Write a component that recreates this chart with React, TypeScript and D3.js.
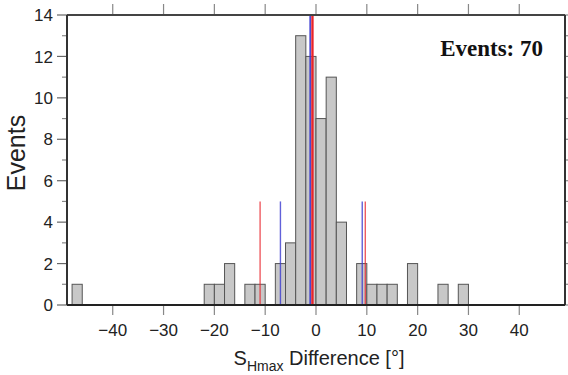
import { useMemo } from 'react';
import * as d3 from 'd3';

// histogram bins (2 degree wide), left edge and count
const binStarts = [-48, -22, -20, -18, -14, -12, -8, -6, -4, -2, 0, 2, 4, 8, 10, 12, 14, 18, 24, 28];
const binCounts = [1, 1, 1, 2, 1, 1, 2, 3, 13, 12, 9, 11, 4, 2, 1, 1, 1, 2, 1, 1];
const binWidth = 2;

// marker lines
const redLines = [-11, -0.7, 9.7];
const redHeights = [5, 14, 5];
const blueLines = [-7, -1.15, 9.1];
const blueHeights = [5, 14, 5];

const xTicks = [-40, -30, -20, -10, 0, 10, 20, 30, 40];
const yTicks = [0, 2, 4, 6, 8, 10, 12, 14];
const yMinor = [1, 3, 5, 7, 9, 11, 13];
const yAll = d3.range(0, 15);
const eventsLabel = 'Events: 70';

const width = 568;
const height = 375;
const margin = { top: 15, right: 3, bottom: 70, left: 67 };

const sans = 'Liberation Sans, Arial, Helvetica, sans-serif';

export default function App() {
  const innerWidth = width - margin.left - margin.right;
  const innerHeight = height - margin.top - margin.bottom;

  const x = useMemo(() => d3.scaleLinear().domain([-49, 49]).range([0, innerWidth]), [innerWidth]);
  const y = useMemo(() => d3.scaleLinear().domain([0, 14]).range([innerHeight, 0]), [innerHeight]);

  return (
    <svg width={width} height={height} style={{ position: 'absolute', left: 0, top: 0 }}>
      <g transform={`translate(${margin.left},${margin.top})`}>
        {binStarts.map((s, i) => (
          <rect
            key={i}
            x={x(s)}
            y={y(binCounts[i])}
            width={x(s + binWidth) - x(s)}
            height={y(0) - y(binCounts[i])}
            fill="#c8c8c8"
            stroke="#555"
            strokeWidth={1}
          />
        ))}

        {blueLines.map((v, i) => (
          <line
            key={'b' + i}
            x1={x(v)}
            x2={x(v)}
            y1={y(0)}
            y2={y(blueHeights[i])}
            stroke="#3a3ad0"
            strokeOpacity={i === 1 ? 1 : 0.8}
            strokeWidth={i === 1 ? 1.5 : 1.4}
          />
        ))}
        {redLines.map((v, i) => (
          <line
            key={'r' + i}
            x1={x(v)}
            x2={x(v)}
            y1={y(0)}
            y2={y(redHeights[i])}
            stroke="#e8242c"
            strokeOpacity={i === 1 ? 1 : 0.75}
            strokeWidth={i === 1 ? 2.4 : 1.4}
          />
        ))}

        {/* top ticks */}
        {xTicks.map((t) => (
          <line key={'tt' + t} x1={x(t)} x2={x(t)} y1={0} y2={-11} stroke="#888" strokeWidth={1.2} />
        ))}
        {/* bottom ticks and labels */}
        {xTicks.map((t) => (
          <g key={'bt' + t} transform={`translate(${x(t)},${innerHeight})`}>
            <line y1={0} y2={10} stroke="#888" strokeWidth={1.2} />
            <text y={31} textAnchor="middle" fontFamily={sans} fontSize={17} fill="#222">
              {t < 0 ? '\u2212' + Math.abs(t) : t}
            </text>
          </g>
        ))}

        {/* left ticks */}
        {yTicks.map((t) => (
          <g key={'yt' + t} transform={`translate(0,${y(t)})`}>
            <line x1={0} x2={-10} stroke="#666" strokeWidth={1.2} />
            <text x={-14} dy="0.36em" textAnchor="end" fontFamily={sans} fontSize={17} fill="#222">
              {t}
            </text>
          </g>
        ))}
        {yMinor.map((t) => (
          <line key={'ym' + t} x1={0} x2={-5} y1={y(t)} y2={y(t)} stroke="#888" strokeWidth={1.2} />
        ))}
        {/* right ticks */}
        {yAll.map((t) => (
          <line key={'yr' + t} x1={innerWidth} x2={innerWidth + 4} y1={y(t)} y2={y(t)} stroke="#888" strokeWidth={1.2} />
        ))}

        {/* frame */}
        <line x1={0} x2={innerWidth} y1={0} y2={0} stroke="#444" strokeWidth={2} />
        <line x1={0} x2={0} y1={0} y2={innerHeight} stroke="#333" strokeWidth={2} />
        <line x1={innerWidth} x2={innerWidth} y1={0} y2={innerHeight} stroke="#333" strokeWidth={2} />
        <line x1={0} x2={innerWidth} y1={innerHeight} y2={innerHeight} stroke="#222" strokeWidth={2} />

        <text
          x={476}
          y={41}
          textAnchor="end"
          fontFamily="Liberation Serif, Times New Roman, serif"
          fontWeight="bold"
          fontSize={23}
          fill="#111"
        >
          {eventsLabel}
        </text>
      </g>

      <text
        transform={`translate(25,153) rotate(-90)`}
        textAnchor="middle"
        fontFamily={sans}
        fontSize={25}
        fill="#222"
      >
        Events
      </text>

      <text x={319} y={365} textAnchor="middle" fontFamily={sans} fontSize={20} fill="#222">
        S
        <tspan fontSize={14} dy={6}>
          Hmax
        </tspan>
        <tspan dy={-6}> Difference [°]</tspan>
      </text>
    </svg>
  );
}
